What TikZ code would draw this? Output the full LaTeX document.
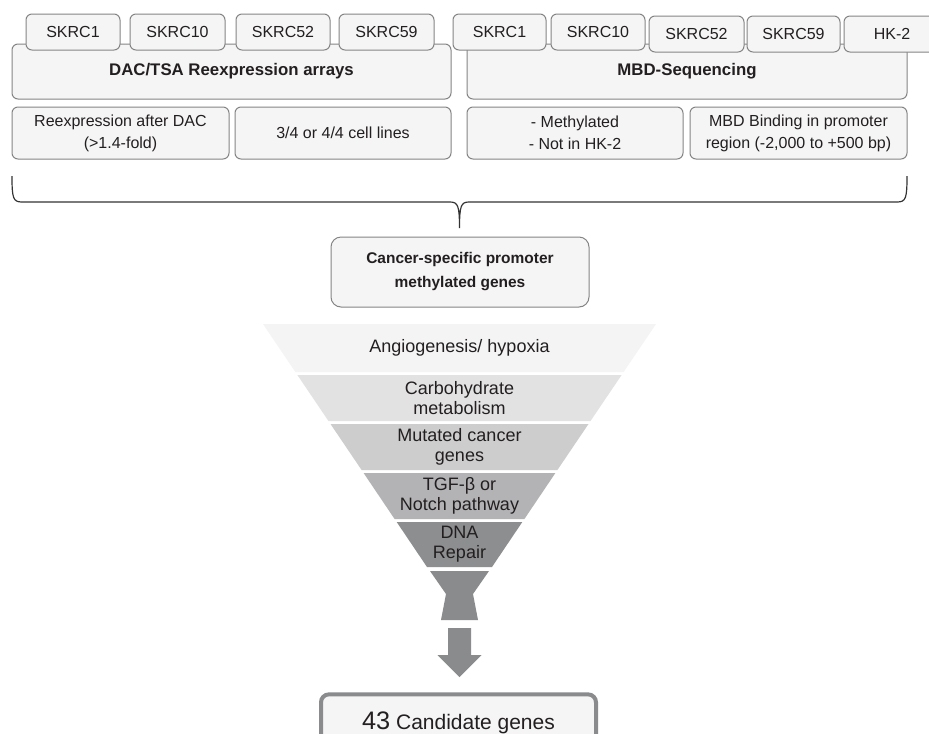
\documentclass[tikz,border=0pt]{standalone}
\usepackage{fontspec}
\setmainfont{Liberation Sans}
\definecolor{txt}{HTML}{231F20}
\definecolor{bordergray}{HTML}{858585}
\definecolor{boxfill}{HTML}{F5F5F5}
\definecolor{fa}{HTML}{F4F4F4}
\definecolor{fb}{HTML}{E2E2E3}
\definecolor{fc}{HTML}{CDCDCE}
\definecolor{fd}{HTML}{B3B3B5}
\definecolor{fe}{HTML}{8D8E90}
\definecolor{ff}{HTML}{8A8B8D}
\definecolor{bracecol}{HTML}{333333}
\begin{document}
\begin{tikzpicture}[x=0.75pt,y=-0.75pt,
  box/.style={draw=bordergray, fill=boxfill, rounded corners=4.5pt, line width=0.75pt,
    inner sep=0pt, text=txt, align=center, font=\fontsize{12}{16.5}\selectfont},
  tabbox/.style={box, minimum height=27pt},
  bigbox/.style={box, minimum height=41.25pt, font=\bfseries\fontsize{12.6}{16.5}\selectfont},
  lowbox/.style={box, minimum height=39pt},
  funtext/.style={text=txt, align=center, inner sep=0pt, font=\fontsize{13.5}{14.5}\selectfont}]
\useasboundingbox (0,0) rectangle (929,733);
\clip (0,0) rectangle (929,733);
\fill[white] (0,0) rectangle (929,733);
% big boxes
\node[bigbox, minimum width=329.25pt] (dac) at (231.5,71.5) {DAC/TSA Reexpression arrays};
\node[bigbox, minimum width=330pt] (mbd) at (687,71.5) {MBD-Sequencing};
% tabs left
\node[tabbox, minimum width=70.5pt] (l1) at (73,32) {SKRC1};
\node[tabbox, minimum width=71.25pt] (l2) at (177.5,32) {SKRC10};
\node[tabbox, minimum width=70.5pt] (l3) at (283,32) {SKRC52};
\node[tabbox, minimum width=71.25pt] (l4) at (386.5,32) {SKRC59};
% tabs right
\node[tabbox, minimum width=69.75pt] (r1) at (499.5,32) {SKRC1};
\node[tabbox, minimum width=70.5pt] (r2) at (598,32) {SKRC10};
\node[tabbox, minimum width=71.25pt] (r3) at (696.5,34) {SKRC52};
\node[tabbox, minimum width=69.75pt] (r4) at (793.5,34) {SKRC59};
\node[tabbox, minimum width=72pt] (r5) at (892,34) {HK-2};
% lower boxes
\node[lowbox, minimum width=162.75pt] (b1) at (120.5,133) {Reexpression after DAC\\(>1.4-fold)};
\node[lowbox, minimum width=162pt] (b2) at (343,133) {3/4 or 4/4 cell lines};
\node[lowbox, minimum width=162pt] (b3) at (575,133) {- Methylated\\- Not in HK-2};
\node[lowbox, minimum width=162.75pt] (b4) at (798.5,133) {MBD Binding in promoter\\region (-2,000 to +500 bp)};
% brace
\coordinate (brL) at (12,176);
\coordinate (brR) at (907,176);
\coordinate (brT) at (459.5,228);
\draw[bracecol, line width=0.9pt] (brL) .. controls (12,198) and (13,202) .. (22,202)
  -- (450,202) .. controls (458,202) and (459.5,206) .. (brT)
  .. controls (459.5,206) and (461,202) .. (469,202)
  -- (897,202) .. controls (906,202) and (907,198) .. (brR);
% cancer-specific box
\node[box, rounded corners=7.5pt, minimum width=193.5pt, minimum height=52.5pt,
  font=\bfseries\fontsize{11.6}{18}\selectfont] (csp) at (460,272)
  {Cancer-specific promoter\\methylated genes};
% funnel
\fill[fa] (263,324) -- (656,324) -- (623.6,372) -- (295.4,372) -- cycle;
\fill[fb] (297.4,375) -- (621.6,375) -- (590.5,421) -- (328.5,421) -- cycle;
\fill[fc] (330.5,424) -- (588.5,424) -- (557.4,470) -- (361.6,470) -- cycle;
\fill[fd] (363.6,473) -- (555.4,473) -- (524.4,519) -- (394.6,519) -- cycle;
\fill[fe] (396.7,522) -- (522.3,522) -- (492,567) -- (427,567) -- cycle;
\node[funtext] (f1) at (459.5,348) {Angiogenesis/ hypoxia};
\node[funtext] (f2) at (459.5,398) {Carbohydrate\\metabolism};
\node[funtext] (f3) at (459.5,447) {Mutated cancer\\genes};
\node[funtext] (f4) at (459.5,496) {TGF-β or\\Notch pathway};
\node[funtext] (f5) at (459.5,544) {DNA\\Repair};
% hourglass
\fill[ff] (430,571) -- (489,571) -- (473,594) -- (478,620) -- (441,620) -- (446,594) -- cycle;
% block arrow
\fill[ff] (448,628) -- (471,628) -- (471,655) -- (481.5,655) -- (459.5,677)
  -- (437.5,655) -- (448,655) -- cycle;
% candidate box
\node[draw=ff, fill=boxfill, line width=3pt, rounded corners=6pt, inner sep=0pt,
  minimum width=206.25pt, minimum height=43pt, text=txt,
  font=\fontsize{15.75}{18}\selectfont] (cand) at (458.5,723)
  {{\fontsize{19}{20}\selectfont 43} Candidate genes};
\end{tikzpicture}
\end{document}
